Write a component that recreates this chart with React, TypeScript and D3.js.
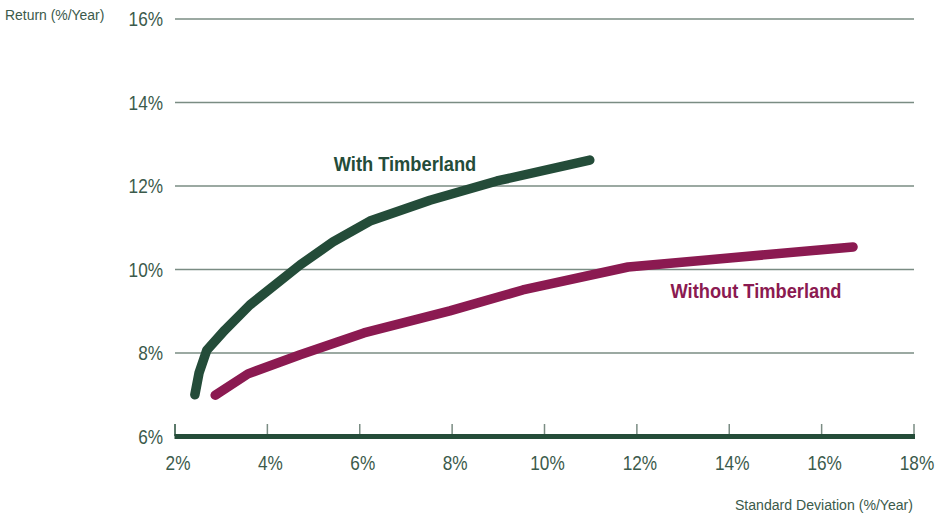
import * as d3 from 'd3';

// efficient frontier points, [std dev %, return %]
const withTimberland: [number, number][] = [
  [2.43, 7.0], [2.52, 7.52], [2.69, 8.07], [3.08, 8.55], [3.62, 9.15],
  [4.71, 10.11], [5.42, 10.66], [6.22, 11.16], [7.52, 11.66], [8.97, 12.12], [10.98, 12.62],
];
const withoutTimberland: [number, number][] = [
  [2.87, 6.99], [3.58, 7.5], [4.71, 7.96], [6.09, 8.48], [7.95, 9.01],
  [9.53, 9.51], [11.81, 10.06], [16.68, 10.54],
];
const xTicks = [2, 4, 6, 8, 10, 12, 14, 16, 18];
const yTicks = [6, 8, 10, 12, 14, 16];

const W = 946;
const H = 517;
const FONT = "'Liberation Sans', Arial, sans-serif";
const TEXT = '#3b5a4b';
const GRID = '#7a8c83';
const GREEN = '#244c39';
const MAROON = '#8b1a51';

// no condensed font installed, so squeeze Liberation Sans horizontally
function Label({ x, y, sx, anchor = 'start', size, weight = 'normal', fill, children }: {
  x: number; y: number; sx: number; anchor?: string; size: number;
  weight?: string; fill: string; children: any;
}) {
  return (
    <text
      transform={`translate(${x},${y}) scale(${sx},1)`}
      textAnchor={anchor}
      fontSize={size}
      fontWeight={weight}
      fill={fill}
    >
      {children}
    </text>
  );
}

export default function App() {
  const x = d3.scaleLinear().domain([2, 18]).range([175, 914]);
  const y = d3.scaleLinear().domain([6, 16]).range([436.5, 19]);

  const line = d3
    .line<[number, number]>()
    .x(d => x(d[0]))
    .y(d => y(d[1]));

  return (
    <svg
      width={W}
      height={H}
      style={{ position: 'absolute', left: 0, top: 0, background: '#fff' }}
      fontFamily={FONT}
    >
      <Label x={5} y={19.5} sx={0.93} size={15} fill={TEXT}>Return (%/Year)</Label>

      {/* gridlines + y labels */}
      {yTicks.map(t => (
        <g key={t}>
          {t > 6 && (
            <line x1={x(2)} x2={x(18)} y1={y(t)} y2={y(t)} stroke={GRID} strokeWidth={1.3} />
          )}
          <Label x={163} y={y(t) + 7} sx={0.82} anchor="end" size={21} fill={TEXT}>
            {t}%
          </Label>
        </g>
      ))}

      {/* x ticks */}
      {xTicks.map((t, i) => (
        <g key={t}>
          <line
            x1={x(t)} x2={x(t)} y1={424} y2={436}
            stroke={i === 0 ? GREEN : GRID}
            strokeWidth={1.5}
          />
          <Label x={x(t) + 3} y={469.5} sx={0.82} anchor="middle" size={21} fill={TEXT}>
            {t}%
          </Label>
        </g>
      ))}
      <line x1={x(2) - 0.5} x2={x(18) + 1} y1={y(6)} y2={y(6)} stroke={GREEN} strokeWidth={5} />

      <Label x={913} y={509.5} sx={0.94} anchor="end" size={15} fill={TEXT}>
        Standard Deviation (%/Year)
      </Label>

      {/* frontiers */}
      <path d={line(withTimberland) || ''} fill="none" stroke={GREEN} strokeWidth={9.5}
        strokeLinecap="round" strokeLinejoin="round" />
      <path d={line(withoutTimberland) || ''} fill="none" stroke={MAROON} strokeWidth={9.5}
        strokeLinecap="round" strokeLinejoin="round" />

      <Label x={405} y={171} sx={0.87} anchor="middle" size={21} weight="bold" fill={GREEN}>
        With Timberland
      </Label>
      <Label x={756} y={298} sx={0.87} anchor="middle" size={21} weight="bold" fill={MAROON}>
        Without Timberland
      </Label>
    </svg>
  );
}
